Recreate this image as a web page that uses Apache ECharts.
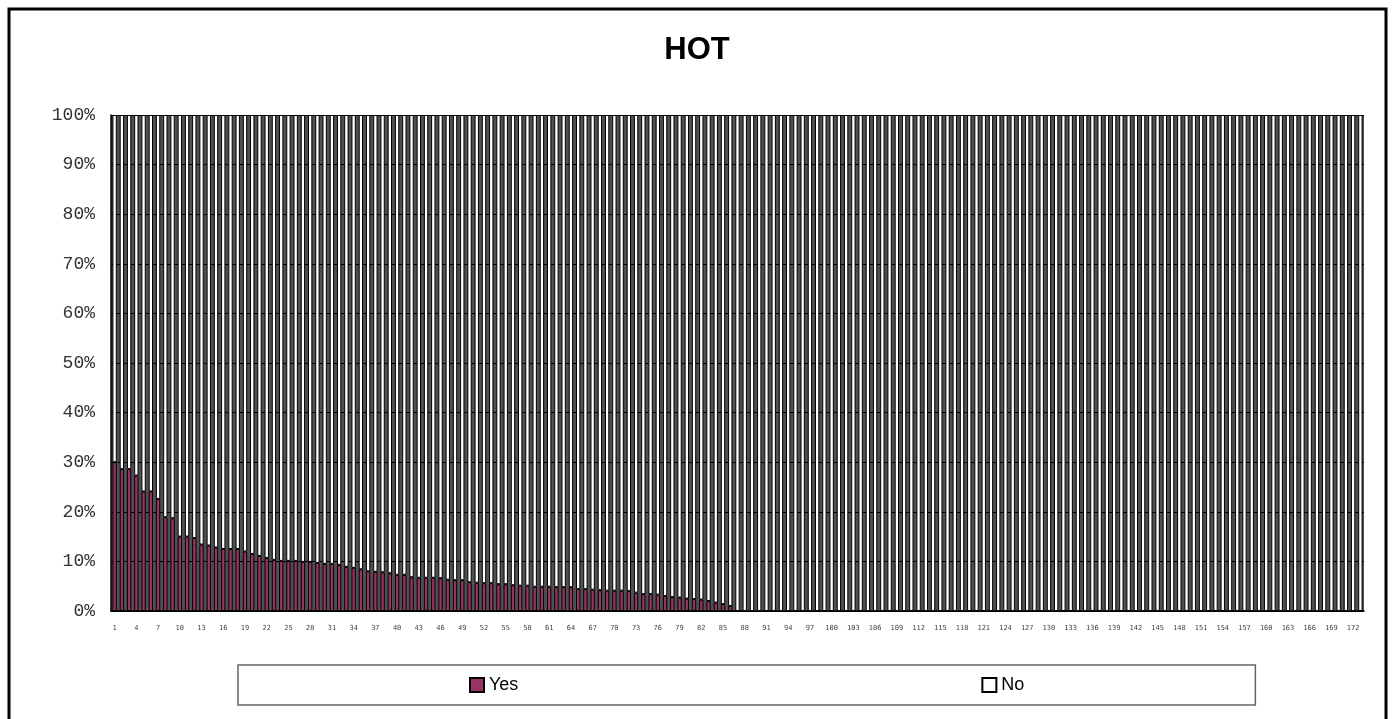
<!DOCTYPE html>
<html>
<head>
<meta charset="utf-8">
<title>HOT</title>
<script src="https://cdn.jsdelivr.net/npm/echarts@6/dist/echarts.min.js"></script>
<style>
  html, body { margin: 0; padding: 0; background: #fff; }
  #chart { width: 1394px; height: 719px; }
</style>
</head>
<body>
<div id="chart"></div>
<script>
// 分类 1..173
const categories = Array.from({ length: 173 }, (_, i) => String(i + 1))

// Yes 占比 (%)，读自原图
const yesValues = [
  30.0, 28.6, 28.6, 27.3, 24.1, 24.1, 22.6, 18.9, 18.7, 15.0,
  15.0, 14.7, 13.4, 13.2, 12.8, 12.5, 12.5, 12.5, 12.0, 11.5,
  11.1, 10.7, 10.3, 10.1, 10.1, 10.1, 9.9, 9.9, 9.7, 9.5,
  9.5, 9.3, 8.9, 8.7, 8.4, 8.0, 7.9, 7.8, 7.6, 7.3,
  7.3, 6.8, 6.7, 6.7, 6.7, 6.6, 6.3, 6.2, 6.2, 5.8,
  5.7, 5.6, 5.6, 5.4, 5.4, 5.2, 5.1, 5.1, 4.9, 4.9,
  4.9, 4.8, 4.8, 4.8, 4.4, 4.4, 4.3, 4.2, 4.1, 4.1,
  4.1, 4.0, 3.7, 3.4, 3.4, 3.3, 3.0, 2.8, 2.7, 2.5,
  2.4, 2.3, 2.0, 1.7, 1.4, 1.0, 0, 0, 0, 0,
  0, 0, 0, 0, 0, 0, 0, 0, 0, 0,
  0, 0, 0, 0, 0, 0, 0, 0, 0, 0,
  0, 0, 0, 0, 0, 0, 0, 0, 0, 0,
  0, 0, 0, 0, 0, 0, 0, 0, 0, 0,
  0, 0, 0, 0, 0, 0, 0, 0, 0, 0,
  0, 0, 0, 0, 0, 0, 0, 0, 0, 0,
  0, 0, 0, 0, 0, 0, 0, 0, 0, 0,
  0, 0, 0, 0, 0, 0, 0, 0, 0, 0,
  0, 0, 0
]

// No = 100% 堆叠的剩余部分
const noValues = yesValues.map(v => +(100 - v).toFixed(1))

const yTicks = [0, 10, 20, 30, 40, 50, 60, 70, 80, 90, 100]

const chart = echarts.init(document.getElementById('chart'))

chart.setOption({
  animation: false,
  backgroundColor: '#fff',
  title: {
    text: 'HOT',
    left: 'center',
    top: 30,
    textStyle: {
      fontFamily: 'Liberation Sans',
      fontSize: 31,
      fontWeight: 'bold',
      color: '#000'
    }
  },
  legend: {
    left: 238,
    top: 665,
    orient: 'horizontal',
    itemWidth: 14,
    itemHeight: 14,
    itemGap: 463,
    padding: [11, 231, 11, 231],
    borderColor: '#666',
    borderWidth: 1.5,
    icon: 'rect',
    itemStyle: { borderColor: '#000', borderWidth: 2 },
    textStyle: {
      fontFamily: 'Liberation Sans',
      fontSize: 18,
      color: '#000'
    },
    data: ['Yes', 'No']
  },
  grid: {
    left: 111,
    right: 30,
    top: 115,
    bottom: 108,
    show: true,
    backgroundColor: '#505050',
    borderWidth: 0
  },
  xAxis: {
    type: 'category',
    data: categories,
    axisLine: { show: true, lineStyle: { color: '#000', width: 1.5 } },
    axisTick: { show: false },
    axisLabel: {
      interval: 2,
      margin: 14,
      fontFamily: 'DejaVu Sans Mono',
      fontSize: 7,
      color: '#444'
    }
  },
  yAxis: {
    type: 'value',
    min: yTicks[0],
    max: yTicks[yTicks.length - 1],
    interval: 10,
    axisLine: { show: true, lineStyle: { color: '#000', width: 1.5 } },
    axisTick: { show: false },
    splitLine: { show: true, lineStyle: { color: '#000', width: 1 } },
    axisLabel: {
      margin: 16,
      formatter: '{value}%',
      fontFamily: 'Liberation Mono',
      fontSize: 18,
      color: '#333'
    }
  },
  series: [
    {
      name: 'Yes',
      type: 'bar',
      stack: 'total',
      barCategoryGap: '40%',
      data: yesValues,
      itemStyle: { color: '#993366', borderColor: '#000', borderWidth: 1 }
    },
    {
      name: 'No',
      type: 'bar',
      stack: 'total',
      barCategoryGap: '40%',
      data: noValues,
      itemStyle: { color: '#fff', borderColor: '#000', borderWidth: 1 }
    }
  ],
  graphic: [{
    type: 'rect',
    silent: true,
    z: 100,
    shape: { x: 9, y: 9, width: 1377, height: 740 },
    style: { fill: 'none', stroke: '#000', lineWidth: 3 }
  }]
})
</script>
</body>
</html>
